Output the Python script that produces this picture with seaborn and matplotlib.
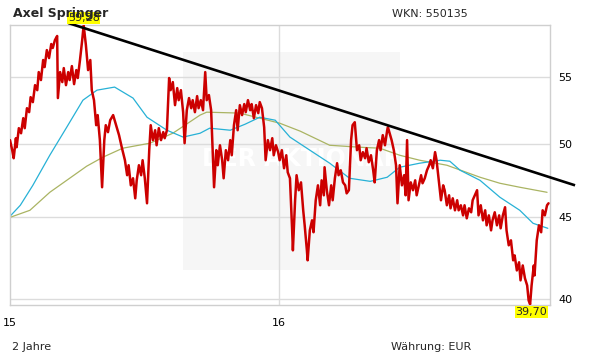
import matplotlib
matplotlib.use("Agg")
import matplotlib.pyplot as plt
from matplotlib.ticker import NullLocator, FixedLocator, FixedFormatter
from matplotlib.patches import Rectangle
import pandas as pd
import seaborn as sns

# ---------------- data ----------------
start_date = "2015-01-01"
end_days = 733

price_days = [
    0, 3, 5, 8, 9, 12, 15, 18, 20, 23,
    26, 28, 31, 34, 37, 39, 42, 45, 47, 50,
    53, 56, 58, 61, 64, 65, 68, 71, 73, 76,
    79, 81, 84, 87, 90, 92, 95, 98, 100, 103,
    106, 109, 111, 114, 117, 119, 122, 125, 128, 130,
    133, 136, 140, 144, 148, 152, 156, 159, 161, 164,
    167, 170, 172, 175, 178, 180, 183, 186, 189, 191,
    194, 197, 199, 202, 205, 208, 210, 213, 216, 218,
    221, 224, 227, 229, 232, 235, 237, 240, 243, 246,
    248, 251, 254, 256, 259, 262, 265, 267, 270, 273,
    275, 277, 280, 282, 285, 288, 290, 293, 296, 299,
    301, 304, 307, 309, 312, 315, 318, 320, 323, 326,
    328, 331, 334, 337, 339, 342, 345, 347, 350, 353,
    356, 358, 361, 364, 366, 369, 372, 375, 377, 380,
    383, 384, 387, 389, 392, 395, 398, 400, 403, 404,
    407, 410, 412, 415, 418, 421, 423, 426, 427, 430,
    433, 436, 438, 441, 444, 446, 449, 452, 455, 457,
    460, 463, 465, 468, 471, 474, 476, 479, 482, 484,
    487, 490, 493, 495, 498, 501, 503, 506, 509, 512,
    513, 516, 518, 521, 524, 526, 529, 532, 535, 537,
    539, 541, 544, 547, 550, 552, 555, 558, 560, 563,
    566, 569, 571, 574, 577, 579, 582, 585, 588, 590,
    593, 596, 598, 601, 604, 607, 609, 612, 615, 617,
    620, 623, 626, 628, 631, 634, 636, 639, 642, 645,
    647, 650, 653, 655, 658, 661, 664, 666, 669, 672,
    674, 677, 680, 683, 685, 688, 691, 693, 696, 699,
    702, 704, 706, 708, 711, 712, 715, 718, 721, 723,
    726, 729, 731,
]
price_vals = [
    50.26, 49.54, 48.97, 50.40, 49.75, 51.13, 50.76, 51.87, 51.13, 52.62,
    52.32, 53.46, 53.08, 54.39, 54.00, 55.42, 54.79, 56.39, 55.82, 57.20,
    56.55, 57.70, 57.37, 58.03, 58.37, 53.39, 55.42, 54.63, 55.74, 54.39,
    55.42, 54.79, 55.90, 54.47, 55.58, 54.95, 56.39, 58.03, 59.28, 57.62,
    55.58, 56.39, 54.00, 53.23, 51.35, 52.10, 50.26, 46.97, 50.26, 51.35,
    50.84, 51.72, 52.10, 51.35, 50.62, 49.68, 48.83, 47.79, 48.48, 47.10,
    47.58, 46.23, 47.44, 48.48, 47.79, 48.83, 47.58, 45.90, 49.54, 51.35,
    50.26, 50.98, 49.89, 51.13, 50.26, 50.84, 50.40, 50.98, 54.95, 54.00,
    54.63, 52.85, 54.16, 53.23, 54.00, 52.32, 50.04, 52.47, 53.39, 52.62,
    53.23, 52.32, 53.54, 52.62, 53.23, 52.47, 55.42, 53.23, 53.62, 52.47,
    49.54, 46.97, 49.54, 48.48, 49.89, 48.83, 47.58, 49.54, 48.83, 50.26,
    49.18, 51.35, 52.47, 50.98, 52.85, 52.10, 52.93, 52.32, 53.23, 52.47,
    52.93, 51.87, 52.85, 52.25, 53.08, 52.62, 51.20, 48.83, 50.26, 49.54,
    50.40, 49.18, 49.89, 49.40, 48.83, 49.54, 48.27, 49.18, 47.99, 47.58,
    44.15, 42.90, 46.10, 47.79, 46.77, 47.30, 45.44, 44.47, 42.90, 42.29,
    44.15, 44.79, 44.03, 46.10, 47.10, 45.77, 47.44, 46.43, 48.34, 46.77,
    45.77, 47.10, 46.10, 47.58, 48.62, 47.79, 48.13, 47.30, 47.10, 46.56,
    46.77, 50.26, 51.35, 51.57, 49.54, 49.89, 48.83, 49.40, 48.97, 49.68,
    48.69, 49.18, 48.13, 47.30, 49.54, 50.26, 49.54, 50.62, 49.89, 50.98,
    51.20, 50.62, 50.26, 49.54, 48.48, 45.90, 48.48, 47.10, 47.79, 46.43,
    50.26, 46.10, 47.30, 46.77, 47.44, 46.43, 47.10, 47.79, 47.24, 47.58,
    48.13, 48.48, 48.83, 48.27, 49.40, 48.83, 47.44, 46.10, 47.10, 46.77,
    45.77, 46.43, 45.57, 46.23, 45.44, 46.10, 45.44, 45.77, 45.11, 45.77,
    44.92, 45.57, 45.31, 46.10, 46.43, 46.77, 45.11, 45.77, 44.79, 45.44,
    44.47, 45.11, 44.15, 44.79, 45.31, 44.47, 45.11, 44.28, 45.11, 45.64,
    44.15, 43.21, 43.52, 42.29, 42.59, 41.68, 42.17, 41.09, 41.98, 41.21,
    40.79, 39.92, 39.70, 40.79, 41.98, 41.38, 43.52, 44.47, 44.03, 45.44,
    45.11, 45.77, 45.90,
]

ma_fast_days = [0, 14, 31, 54, 77, 99, 118, 142, 167, 186, 213, 235, 258, 271, 299, 319,
                339, 360, 380, 407, 434, 461, 489, 512, 529, 556, 584, 597, 611, 638,
                665, 692, 710, 730]
ma_fast_vals = [45.05, 45.77, 47.10, 49.18, 51.20, 53.23, 54.00, 54.24, 53.39, 51.94,
                50.98, 50.48, 50.76, 51.13, 50.98, 51.42, 51.94, 51.72, 50.48, 49.54,
                48.62, 47.58, 47.37, 47.65, 48.34, 48.62, 48.83, 48.76, 48.13, 47.44,
                46.30, 45.44, 44.60, 44.28]

ma_slow_days = [0, 27, 54, 77, 104, 126, 153, 190, 221, 258, 267, 312, 339, 366, 394,
                434, 475, 502, 529, 556, 593, 638, 665, 692, 729]
ma_slow_vals = [44.98, 45.44, 46.63, 47.44, 48.41, 49.04, 49.68, 50.04, 50.76, 52.10,
                52.32, 52.25, 51.87, 51.50, 50.91, 49.89, 49.75, 49.68, 49.18, 48.83,
                48.48, 47.65, 47.24, 46.97, 46.63]

trend_days = [79, 767]
trend_vals = [59.47, 47.10]

y_ticks = [40, 45, 50, 55]
y_tick_labels = ["40", "45", "50", "55"]
x_tick_days = [0, 365]
x_tick_labels = ["15", "16"]

title = "Axel Springer"
wkn_text = "WKN: 550135"
period_text = "2 Jahre"
currency_text = "Währung: EUR"
max_label = "59,28"
min_label = "39,70"
max_day, max_val = 100, 59.28
min_day, min_val = 706, 39.70

# ---------------- helpers ----------------
t0 = pd.Timestamp(start_date)


def to_dates(days):
    return t0 + pd.to_timedelta(days, unit="D")


price_df = pd.DataFrame({"date": to_dates(price_days), "price": price_vals})
fast_df = pd.DataFrame({"date": to_dates(ma_fast_days), "val": ma_fast_vals})
slow_df = pd.DataFrame({"date": to_dates(ma_slow_days), "val": ma_slow_vals})

# ---------------- figure ----------------
sns.set_theme(style="white")
plt.rcParams["font.family"] = ["DejaVu Sans"]

W, H = 611, 364
fig = plt.figure(figsize=(W / 100, H / 100), dpi=100)
fig.patch.set_facecolor("white")
ax = fig.add_axes([10 / W, 1 - 305 / H, 540 / W, 280 / H])
ax.set_facecolor("white")

ax.set_yscale("log")
ax.set_ylim(39.66, 59.30)
ax.set_xlim(t0, t0 + pd.Timedelta(days=end_days))

# watermark box
ax.add_patch(Rectangle((0.320, 0.125), 0.402, 0.779, transform=ax.transAxes,
                       facecolor="#f6f6f6", edgecolor="none", zorder=0.5))
ax.text(0.54, 0.52, "DER AKTIONÄR", transform=ax.transAxes, ha="center", va="center",
        fontsize=17, fontweight="bold", color="white", zorder=0.6)

# grid
for v in y_ticks:
    ax.axhline(v, color="#dcdcdc", lw=1.0, zorder=1)
for d in x_tick_days[1:]:
    ax.axvline(to_dates([d])[0], color="#dcdcdc", lw=1.0, zorder=1)

# series
sns.lineplot(data=slow_df, x="date", y="val", ax=ax, color="#aab463", lw=0.9,
             estimator=None, zorder=2)
sns.lineplot(data=fast_df, x="date", y="val", ax=ax, color="#27b1d6", lw=0.9,
             estimator=None, zorder=2)
sns.lineplot(data=price_df, x="date", y="price", ax=ax, color="#cc0000", lw=1.8,
             estimator=None, zorder=3)
ax.plot(to_dates(trend_days), trend_vals, color="black", lw=1.9, zorder=4,
        clip_on=False, solid_capstyle="butt")

# axes styling
for s in ax.spines.values():
    s.set_color("#cfcfcf")
    s.set_linewidth(1.0)
ax.set_xlabel("")
ax.set_ylabel("")
ax.yaxis.set_minor_locator(NullLocator())
ax.yaxis.set_major_locator(FixedLocator(y_ticks))
ax.yaxis.set_major_formatter(FixedFormatter(y_tick_labels))
ax.yaxis.tick_right()
ax.xaxis.set_minor_locator(NullLocator())
ax.set_xticks(to_dates(x_tick_days))
ax.set_xticklabels(x_tick_labels)
ax.tick_params(axis="both", length=0, labelsize=8, colors="black")
ax.tick_params(axis="y", pad=6)
ax.tick_params(axis="x", pad=9)

# min / max labels
bbox = dict(boxstyle="square,pad=0.08", fc="#ffff00", ec="none")
ax.annotate(max_label, xy=(to_dates([max_day])[0], max_val), xytext=(0, 5),
            textcoords="offset points", ha="center", va="center", fontsize=8,
            bbox=bbox, annotation_clip=False, zorder=6)
ax.annotate(min_label, xy=(to_dates([min_day])[0], min_val), xytext=(1, -5.5),
            textcoords="offset points", ha="center", va="center", fontsize=8,
            bbox=bbox, annotation_clip=False, zorder=6)

# texts
fig.text(13 / W, 1 - 13 / H, title, ha="left", va="center", fontsize=9,
         fontweight="bold", zorder=1)
fig.text(392 / W, 1 - 14 / H, wkn_text, ha="left", va="center", fontsize=8)
fig.text(12 / W, 1 - 347 / H, period_text, ha="left", va="center", fontsize=8)
fig.text(391 / W, 1 - 347 / H, currency_text, ha="left", va="center", fontsize=8)

fig.savefig("out.png", dpi=100, facecolor="white")
